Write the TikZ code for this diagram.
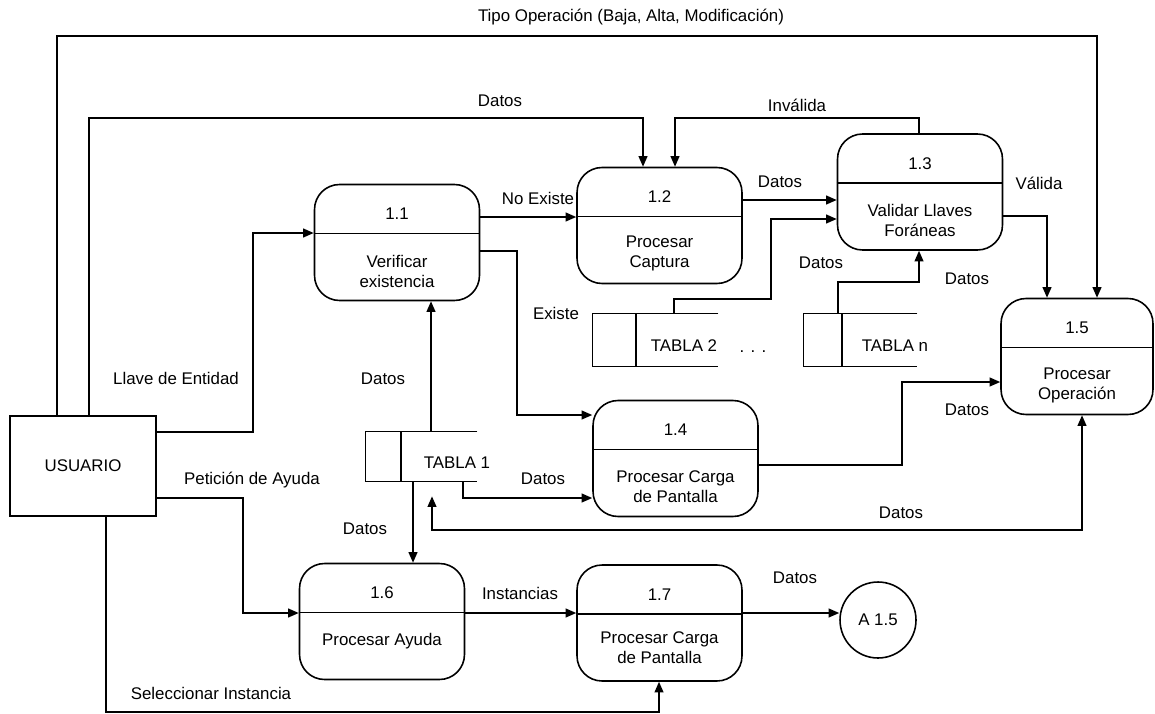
\documentclass[tikz,border=0pt]{standalone}
\usepackage{fontspec}
\setmainfont{Liberation Sans}
\usetikzlibrary{arrows.meta}
\begin{document}
\begin{tikzpicture}[x=0.02cm,y=-0.02cm]
\tikzstyle{every node}=[font=\fontsize{9.6}{11.4}\selectfont,inner sep=0pt];
\tikzstyle{proceso}=[draw,line width=0.9pt,rounded corners=0.5cm,minimum width=3.3cm,minimum height=2.32cm];
\tikzstyle{almacen}=[minimum height=1.04cm];
\tikzstyle{texto}=[align=center];
\tikzstyle{etiqueta}=[text height=6.9pt,text depth=0pt];
\tikzstyle{linea}=[line width=0.9pt];
\tikzstyle{flujo}=[line width=0.9pt,-{Triangle[length=6pt,width=5pt]}];
\useasboundingbox (0,0) rectangle (1155,713);
\path (83,466) node[draw,line width=0.9pt,minimum width=2.92cm,minimum height=2cm] (us) {USUARIO};
\path (397,242.5) node[proceso] (p11) {};
\path (659.5,225.5) node[proceso] (p12) {};
\path (920,192) node[proceso] (p13) {};
\path (675.5,458.5) node[proceso] (p14) {};
\path (1077,356.5) node[proceso,minimum width=3.04cm] (p15) {};
\path (382,621.5) node[proceso] (p16) {};
\path (659.5,623) node[proceso] (p17) {};
\draw[linea] ([yshift=0.18cm]p11.west) -- ([yshift=0.18cm]p11.east);
\draw[linea] ([yshift=0.18cm]p12.west) -- ([yshift=0.18cm]p12.east);
\draw[linea] ([yshift=0.18cm]p13.west) -- ([yshift=0.18cm]p13.east);
\draw[linea] ([yshift=0.18cm]p14.west) -- ([yshift=0.18cm]p14.east);
\draw[linea] ([yshift=0.18cm]p15.west) -- ([yshift=0.18cm]p15.east);
\draw[linea] ([yshift=0.18cm]p16.west) -- ([yshift=0.18cm]p16.east);
\draw[linea] ([yshift=0.18cm]p17.west) -- ([yshift=0.18cm]p17.east);
\path ([yshift=0.57cm]p11.center) node (n11) {1.1};
\path ([yshift=0.57cm]p12.center) node (n12) {1.2};
\path ([yshift=0.57cm]p13.center) node (n13) {1.3};
\path ([yshift=0.57cm]p14.center) node (n14) {1.4};
\path ([yshift=0.57cm]p15.center) node (n15) {1.5};
\path ([yshift=0.57cm]p16.center) node (n16) {1.6};
\path ([yshift=0.57cm]p17.center) node (n17) {1.7};
\path ([yshift=-0.58cm]p11.center) node[texto] (d11) {Verificar\\existencia};
\path ([yshift=-0.56cm]p12.center) node[texto] (d12) {Procesar\\Captura};
\path ([yshift=-0.56cm]p13.center) node[texto] (d13) {Validar Llaves\\Foráneas};
\path ([yshift=-0.57cm]p14.center) node[texto] (d14) {Procesar Carga\\de Pantalla};
\path ([yshift=-0.57cm]p15.center) node[texto] (d15) {Procesar\\Operación};
\path ([yshift=-0.4cm]p16.center) node[texto] (d16) {Procesar Ayuda};
\path ([yshift=-0.5cm]p17.center) node[texto] (d17) {Procesar Carga\\de Pantalla};
\path (421.5,456.5) node[almacen,minimum width=2.22cm,minimum height=0.98cm] (t1) {};
\path (655.5,340) node[almacen,minimum width=2.5cm] (t2) {};
\path (860.5,340) node[almacen,minimum width=2.26cm] (tn) {};
\draw[linea] (t1.north east) -- (t1.north west) -- (t1.south west) -- (t1.south east)
(t1.north -| 401,0) -- (t1.south -| 401,0);
\draw[linea] (t2.north east) -- (t2.north west) -- (t2.south west) -- (t2.south east)
(t2.north -| 636,0) -- (t2.south -| 636,0);
\draw[linea] (tn.north east) -- (tn.north west) -- (tn.south west) -- (tn.south east)
(tn.north -| 842,0) -- (tn.south -| 842,0);
\path (457,462) node[etiqueta] (lt1) {TABLA 1};
\path (684,345) node[etiqueta] (lt2) {TABLA 2};
\path (895,345) node[etiqueta] (ltn) {TABLA n};
\path (753,352) node (puntos) {. . .};
\path (878,620) node[draw,circle,line width=0.9pt,minimum size=1.52cm] (a15) {A 1.5};
\path (631,15) node[etiqueta] (eTipo) {Tipo Operación (Baja, Alta, Modificación)};
\path (500,100) node[etiqueta] (eDatos1) {Datos};
\path (797,105) node[etiqueta] (eInvalida) {Inválida};
\path (538,198) node[etiqueta] (eNoExiste) {No Existe};
\path (780,181) node[etiqueta] (eDatos2) {Datos};
\path (1039,183) node[etiqueta] (eValida) {Válida};
\path (821,262) node[etiqueta] (eDatos3) {Datos};
\path (967,278) node[etiqueta] (eDatos4) {Datos};
\path (556,313) node[etiqueta] (eExiste) {Existe};
\path (176,378) node[etiqueta] (eLlave) {Llave de Entidad};
\path (383,378) node[etiqueta] (eDatos5) {Datos};
\path (967,409) node[etiqueta] (eDatos6) {Datos};
\path (252,478) node[etiqueta] (ePeticion) {Petición de Ayuda};
\path (543,478) node[etiqueta] (eDatos7) {Datos};
\path (901,512) node[etiqueta] (eDatos8) {Datos};
\path (365,528) node[etiqueta] (eDatos9) {Datos};
\path (795,577) node[etiqueta] (eDatos10) {Datos};
\path (520,593) node[etiqueta] (eInstancias) {Instancias};
\path (211,693) node[etiqueta] (eSeleccionar) {Seleccionar Instancia};
\draw[flujo] (us.north -| 57,0) |- (1097,36) -- (p15.north -| 1097,0);
\draw[flujo] (us.north -| 89,0) |- (643,118) -- (p12.north -| 643,0);
\draw[flujo] (p13.north -| 919,0) |- (675,118) -- (p12.north -| 675,0);
\draw[flujo] (us.east |- 0,432) -| (253,233) -- (p11.west |- 0,233);
\draw[flujo] (p11.east |- 0,217) -- (p12.west |- 0,217);
\draw[flujo] (p11.east |- 0,251) -| (517,415) -- (p14.west |- 0,415);
\draw[flujo] (p12.east |- 0,200) -- (p13.west |- 0,200);
\draw[flujo] (t2.north -| 674,0) |- (771,299) |- (p13.west |- 0,219);
\draw[flujo] (tn.north -| 838,0) |- (919,282) -- (p13.south -| 919,0);
\draw[flujo] (p13.east |- 0,216) -| (p15.north -| 1047,0);
\draw[flujo] (t1.north -| 431,0) -- (p11.south -| 431,0);
\draw[flujo] (t1.south -| 463,0) |- (p14.west |- 0,498);
\draw[flujo] (t1.south -| 413,0) -- (p16.north -| 413,0);
\draw[flujo,{Triangle[length=6pt,width=5pt]}-{Triangle[length=6pt,width=5pt]},shorten >=0.3cm] (p15.south -| 1082,0) |- (432,530) -- (t1.south -| 432,0);
\draw[flujo] (p14.east |- 0,465) -| (902,382) -- (p15.west |- 0,382);
\draw[flujo] (us.east |- 0,498) -| (243,613) -- (p16.west |- 0,613);
\draw[flujo] (p16.east |- 0,613) -- (p17.west |- 0,613);
\draw[flujo] (p17.east |- 0,613) -- (a15.west |- 0,613);
\draw[flujo] (us.south -| 106,0) |- (659,712) -- (p17.south -| 659,0);
\end{tikzpicture}
\end{document}
